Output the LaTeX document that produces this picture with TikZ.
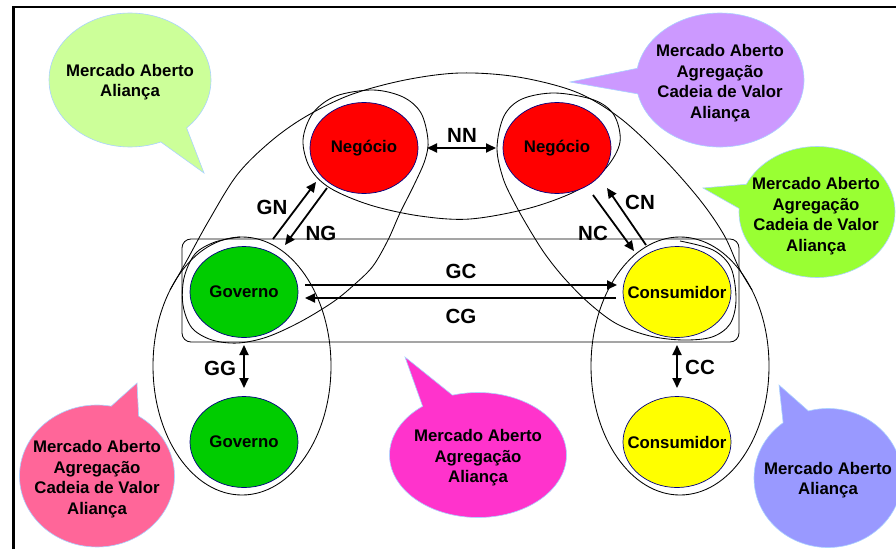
\documentclass[tikz,border=0pt]{standalone}
\usepackage{fontspec}
\setmainfont{Liberation Sans}
\usetikzlibrary{shapes.geometric,shapes.callouts,arrows.meta,calc}

\definecolor{bubLime}{RGB}{204,255,153}
\definecolor{bubLilac}{RGB}{204,153,255}
\definecolor{bubGreen}{RGB}{153,255,51}
\definecolor{bubRose}{RGB}{255,102,153}
\definecolor{bubMagenta}{RGB}{255,51,204}
\definecolor{bubPeri}{RGB}{153,153,255}
\definecolor{bubEdge}{RGB}{170,210,255}
\definecolor{entEdge}{RGB}{0,0,128}
\definecolor{entRed}{RGB}{255,0,0}
\definecolor{entGreen}{RGB}{0,204,0}
\definecolor{entYellow}{RGB}{255,255,0}

\begin{document}
\begin{tikzpicture}[x=1pt,y=-1pt,
  ent/.style={ellipse, draw=entEdge, line width=0.7pt, minimum width=108pt,
    minimum height=91pt, inner sep=-14pt, font=\bfseries\fontsize{16.8}{19}\selectfont},
  grp/.style={draw=black, line width=0.85pt},
  bubble/.style={ellipse callout, draw=bubEdge, line width=0.6pt, inner sep=0pt,
    callout pointer arc=22},
  btext/.style={align=center, inner sep=0pt, font=\bfseries\fontsize{16.8}{20.5}\selectfont},
  lnk/.style={line width=1.8pt, -{Triangle[length=10pt,width=9pt]}},
  lnkboth/.style={line width=1.8pt, {Triangle[length=10pt,width=9pt]}-{Triangle[length=10pt,width=9pt]}},
  lbl/.style={font=\bfseries\fontsize{20.5}{22}\selectfont, inner sep=0pt}
]
\useasboundingbox (0,0) rectangle (896,549);

% frame
\draw[line width=2.7pt] (13.5,549) -- (13.5,7) -- (896,7);

% speech bubbles
\node[bubble, fill=bubLime, minimum width=162pt, minimum height=134pt,
  callout absolute pointer={(204,173)}] (bLime) at (130,80) {};
\node[btext] (tLime) at (130,82) {Mercado Aberto\\Aliança};

\node[bubble, fill=bubLilac, minimum width=168pt, minimum height=134pt,
  callout absolute pointer={(570,82)}] (bLilac) at (720,80) {};
\node[btext] (tLilac) at (720,83) {Mercado Aberto\\Agregação\\Cadeia de Valor\\Aliança};

\node[bubble, fill=bubGreen, minimum width=156pt, minimum height=131pt,
  callout absolute pointer={(703,188)}] (bGreen) at (817,212) {};
\node[btext] (tGreen) at (816,216) {Mercado Aberto\\Agregação\\Cadeia de Valor\\Aliança};

\node[bubble, fill=bubRose, minimum width=155pt, minimum height=142pt,
  callout absolute pointer={(137,383)}] (bRose) at (97,476) {};
\node[btext] (tRose) at (97,479) {Mercado Aberto\\Agregação\\Cadeia de Valor\\Aliança};

\node[bubble, fill=bubMagenta, minimum width=177pt, minimum height=125pt,
  callout absolute pointer={(405,357)}] (bMagenta) at (478,455) {};
\node[btext] (tMagenta) at (478,458) {Mercado Aberto\\Agregação\\Aliança};

\node[bubble, fill=bubPeri, minimum width=148pt, minimum height=139pt,
  callout absolute pointer={(779,385)}] (bPeri) at (828,478) {};
\node[btext] (tPeri) at (828,480) {Mercado Aberto\\Aliança};

% grouping outlines
\draw[grp] (242,366) ellipse [x radius=89, y radius=129];
\draw[grp] (680,366) ellipse [x radius=89, y radius=129];
\draw[grp, rounded corners=9pt] (182,239) rectangle (739,342);

% outer arch joining the two vertical groups
\draw[grp] plot[smooth, tension=0.55] coordinates {
  (170,290) (186,262) (208,222) (237,175) (270,142) (305,117) (350,95)
  (405,80) (460,73) (518,77) (576,92) (620,118) (663,158) (700,200)
  (724,235) (739,268) (752,290)};

% inner outline: Governo ring, Negocio rings and Consumidor ring
\draw[grp] plot[smooth, tension=0.55] coordinates {
  (240,237) (215,242) (195,254) (184,278) (183,305) (192,328) (212,340)
  (238,343) (267,337) (300,322) (333,302) (355,284) (373,266) (388,240)
  (400,213) (414,185) (425,160) (428,140) (421,113) (403,97) (373,90)
  (336,96) (313,113) (303,140) (310,168) (330,188) (370,205) (420,216)
  (470,219) (530,208) (578,190) (606,168) (620,142) (614,115) (594,100)
  (555,93) (522,99) (504,116) (497,148) (503,178) (514,202) (528,227)
  (545,254) (565,279) (590,304) (617,324) (650,336) (683,340) (712,337)
  (730,324) (736,300) (731,268) (713,250) (680,241)};

% actors
\node[ent, fill=entRed] (n1) at (364,148) {Negócio};
\node[ent, fill=entRed] (n2) at (557,148) {Negócio};
\node[ent, fill=entGreen] (g1) at (244,292) {Governo};
\node[ent, fill=entGreen] (g2) at (244,442) {Governo};
\node[ent, fill=entYellow] (c1) at (677,292) {Consumidor};
\node[ent, fill=entYellow] (c2) at (677,442) {Consumidor};

% relations
\draw[lnkboth] ($(n1)+(63,0)$) -- ($(n2)+(-61,0)$);
\draw[lnk] ($(g1)+(29,-53)$) -- ($(n1)+(-48,34)$);
\draw[lnk] ($(n1)+(-37,40)$) -- ($(g1)+(41,-47)$);
\draw[lnk] ($(n2)+(36,47)$) -- ($(c1)+(-43,-41)$);
\draw[lnk] ($(c1)+(-31,-47)$) -- ($(n2)+(50,40)$);
\draw[lnk] ($(g1)+(61,-7)$) -- ($(c1)+(-60,-7)$);
\draw[lnk] ($(c1)+(-61,6)$) -- ($(g1)+(61,6)$);
\draw[lnkboth] ($(g1)+(0,53)$) -- ($(g2)+(0,-54)$);
\draw[lnkboth] ($(c1)+(0,53)$) -- ($(c2)+(0,-54)$);

% relation labels
\node[lbl] (lNN) at (462,135) {NN};
\node[lbl] (lGN) at (272,207) {GN};
\node[lbl] (lNG) at (321,233) {NG};
\node[lbl] (lNC) at (593,233) {NC};
\node[lbl] (lCN) at (640,202) {CN};
\node[lbl] (lGC) at (461,271) {GC};
\node[lbl] (lCG) at (461,316) {CG};
\node[lbl] (lGG) at (220,368) {GG};
\node[lbl] (lCC) at (700,367) {CC};
\end{tikzpicture}
\end{document}
